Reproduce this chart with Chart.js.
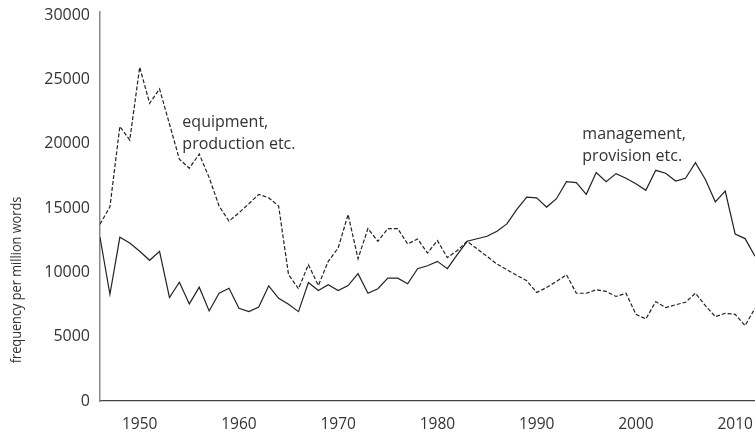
<!DOCTYPE html>
<html>
<head>
<meta charset="utf-8">
<script src="https://cdn.jsdelivr.net/npm/chart.js@4/dist/chart.umd.min.js"></script>
<style>
html, body { margin: 0; padding: 0; background: #fff; }
#chart { display: block; }
</style>
</head>
<body>
<canvas id="chart" width="755" height="435"></canvas>
<script>
const years = [
    1946, 1947, 1948, 1949, 1950, 1951, 1952, 1953, 1954, 1955,
    1956, 1957, 1958, 1959, 1960, 1961, 1962, 1963, 1964, 1965,
    1966, 1967, 1968, 1969, 1970, 1971, 1972, 1973, 1974, 1975,
    1976, 1977, 1978, 1979, 1980, 1981, 1982, 1983, 1984, 1985,
    1986, 1987, 1988, 1989, 1990, 1991, 1992, 1993, 1994, 1995,
    1996, 1997, 1998, 1999, 2000, 2001, 2002, 2003, 2004, 2005,
    2006, 2007, 2008, 2009, 2010, 2011, 2012,
];

// solid line
const management = [
    12730, 8300, 12730, 12290, 11640, 10940, 11640, 8050, 9240, 7550,
    8850, 7000, 8380, 8770, 7210, 6950, 7300, 8960, 7990, 7520,
    6950, 9220, 8590, 9040, 8590, 8980, 9900, 8380, 8730, 9550,
    9550, 9120, 10290, 10520, 10860, 10290, 11380, 12420, 12620, 12810,
    13200, 13770, 14900, 15860, 15800, 15080, 15730, 17050, 16980, 16070,
    17760, 17050, 17680, 17320, 16900, 16380, 17940, 17710, 17110, 17320,
    18540, 17230, 15490, 16330, 12990, 12630, 11250,
];

// dashed line
const equipment = [
    13750, 15100, 21350, 20290, 25960, 23150, 24270, 21540, 18800, 18100,
    19200, 17370, 15160, 13980, 14630, 15340, 16070, 15800, 15160, 9820,
    8730, 10600, 8980, 10860, 11900, 14500, 11070, 13410, 12420, 13410,
    13410, 12210, 12600, 11510, 12480, 11150, 11700, 12420, 11830, 11240,
    10650, 10210, 9770, 9350, 8440, 8830, 9300, 9820, 8380, 8380,
    8650, 8520, 8130, 8380, 6740, 6380, 7730, 7270, 7480, 7680,
    8380, 7420, 6560, 6820, 6740, 5860, 7210,
];

const yearTicks = [1950, 1960, 1970, 1980, 1990, 2000, 2010];
const valueTicks = [0, 5000, 10000, 15000, 20000, 25000, 30000];

const notes = [
    { lines: ['equipment,', 'production etc.'], year: 1954.3, value: 21300 },
    { lines: ['management,', 'provision etc.'], year: 1994.6, value: 20370 },
];

const textColor = '#333';
const font = 'Open Sans';

const toPoints = series => series.map((v, i) => ({ x: years[i], y: v }));

const notesPlugin = {
    id: 'notes',
    afterDraw(chart) {
        const ctx = chart.ctx;
        const { x, y } = chart.scales;
        ctx.save();
        ctx.fillStyle = textColor;
        ctx.font = '16px "' + font + '"';
        ctx.textAlign = 'left';
        ctx.textBaseline = 'alphabetic';
        notes.forEach(note => {
            const px = x.getPixelForValue(note.year);
            const py = y.getPixelForValue(note.value);
            note.lines.forEach((line, i) => ctx.fillText(line, px, py + i * 22));
        });

        // y axis title, sits lower than the axis middle in the original, narrow face
        ctx.translate(17, 280);
        ctx.rotate(-Math.PI / 2);
        ctx.scale(0.85, 1);
        ctx.textAlign = 'center';
        ctx.textBaseline = 'middle';
        ctx.font = '15px "' + font + '"';
        ctx.fillText('frequency per million words', 0, 0);
        ctx.restore();
    }
};

new Chart(document.getElementById('chart'), {
    type: 'line',
    data: {
        datasets: [
            {
                label: 'management, provision etc.',
                data: toPoints(management),
                borderColor: '#222',
                borderWidth: 1.2,
                pointRadius: 0,
                tension: 0,
            },
            {
                label: 'equipment, production etc.',
                data: toPoints(equipment),
                borderColor: '#222',
                borderWidth: 1.2,
                borderDash: [4, 2],
                pointRadius: 0,
                tension: 0,
            },
        ]
    },
    options: {
        responsive: false,
        animation: false,
        layout: { padding: { top: 12, right: 0, bottom: 0, left: 0 } },
        plugins: {
            legend: { display: false },
            tooltip: { enabled: false },
        },
        scales: {
            x: {
                type: 'linear',
                min: 1946,
                max: 2012,
                afterBuildTicks: scale => { scale.ticks = yearTicks.map(v => ({ value: v })); },
                afterFit: scale => {
                    scale.height = 34;
                    scale.paddingLeft = 0;
                    scale.paddingRight = 0;
                },
                grid: { display: false, drawTicks: false },
                border: { color: '#444', width: 1.3 },
                ticks: {
                    color: textColor,
                    font: { family: font, size: 15.5 },
                    padding: 14,
                    maxRotation: 0,
                    callback: v => String(v),
                },
            },
            y: {
                min: 0,
                max: 30250,
                afterBuildTicks: scale => { scale.ticks = valueTicks.map(v => ({ value: v })); },
                afterFit: scale => {
                    scale.width = 100;
                    scale.paddingTop = 0;
                    scale.paddingBottom = 0;
                },
                grid: { display: false, drawTicks: false },
                border: { color: '#888', width: 1.5 },
                ticks: {
                    color: textColor,
                    font: { family: font, size: 16 },
                    padding: 10,
                    callback: v => String(v),
                },
            },
        },
    },
    plugins: [notesPlugin],
});
</script>
</body>
</html>
